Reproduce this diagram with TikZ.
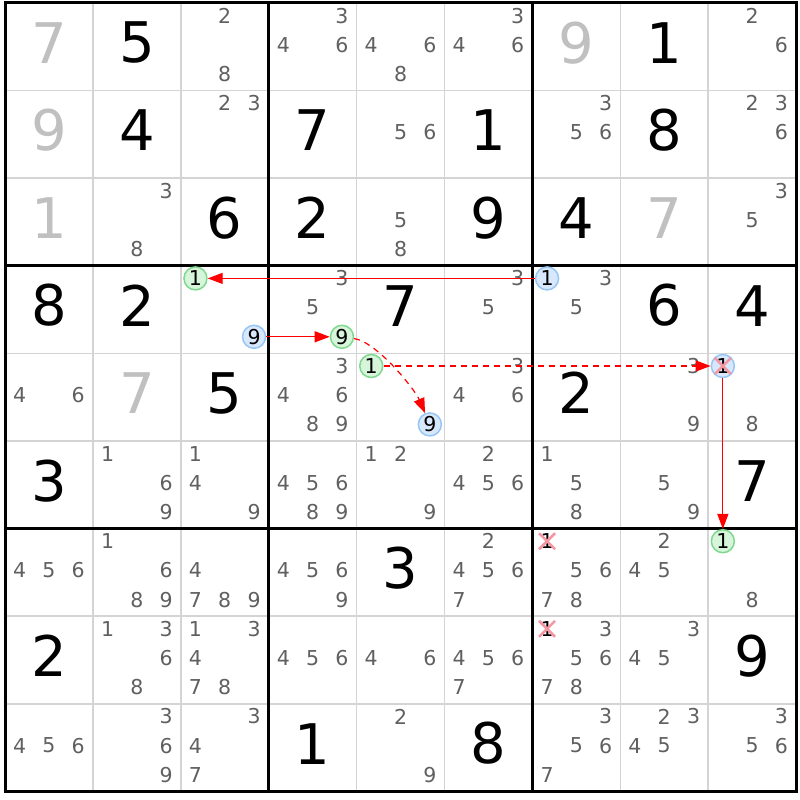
\documentclass[tikz,border=0pt]{standalone}
\usepackage{fontspec}
\setmainfont{DejaVu Sans}
\usetikzlibrary{arrows.meta}
\definecolor{candgray}{RGB}{96,96,96}
\definecolor{fadedgray}{RGB}{192,192,192}
\definecolor{gridgray}{RGB}{212,212,212}
\definecolor{onfill}{RGB}{214,245,218}
\definecolor{ondraw}{RGB}{128,216,144}
\definecolor{offfill}{RGB}{216,232,252}
\definecolor{offdraw}{RGB}{150,198,245}
\definecolor{crossred}{RGB}{245,150,160}
\newcommand\cand[4][]{%
  \pgfmathtruncatemacro\subc{mod(#4-1,3)}%
  \pgfmathtruncatemacro\subr{(#4-1)/3}%
  \node[cand,#1] (r#2c#3n#4) at ({5+(#3-1)*87.9+(\subc+0.5)*29.3},{3+(#2-1)*87.6+(\subr+0.5)*29.2-2}) {#4};}
\newcommand\cands[3]{\foreach \d in {#3}{\cand{#1}{#2}{\d}}}
\newcommand\digit[4][]{%
  \node[solved,#1] (r#2c#3) at ({5+(#3-1)*87.9+43.95},{3+(#2-1)*87.6+43.8-4}) {#4};}
\begin{document}
\begin{tikzpicture}[x=1pt,y=-1pt,
    cand/.style={inner sep=0pt,text=candgray,font=\fontsize{20.5}{20.5}\selectfont},
    solved/.style={inner sep=0pt,text=black,font=\fontsize{56}{56}\selectfont},
    faded/.style={text=fadedgray},
    on/.style={circle,draw=ondraw,fill=onfill,line width=1.5pt,minimum size=23pt,text=black},
    off/.style={circle,draw=offdraw,fill=offfill,line width=1.5pt,minimum size=23pt,text=black},
    elim/.style={text=black},
    cross/.style={crossred,line width=2.6pt},
    link/.style={red,line width=1.2pt,-{Triangle[length=15pt,width=11pt]}},
    weak/.style={link,dash pattern=on 6pt off 5pt},
    thin grid/.style={gridgray,line width=1.6pt},
    thick grid/.style={black,line width=3pt}]
    \useasboundingbox (0,0) rectangle (800,800);
    \fill[white] (0,0) rectangle (800,800);
    \foreach \i in {1,2,4,5,7,8} {
        \draw[thin grid] ({5+\i*87.9},3) -- ({5+\i*87.9},791.4);
        \draw[thin grid] (5,{3+\i*87.6}) -- (796.1,{3+\i*87.6});
    }
    \foreach \i in {3,6} {
        \draw[thick grid] ({5+\i*87.9},3) -- ({5+\i*87.9},791.4);
        \draw[thick grid] (5,{3+\i*87.6}) -- (796.1,{3+\i*87.6});
    }
    \draw[thick grid] (5,3) rectangle (796.1,791.4);
    \digit[faded]{1}{1}{7}
    \digit{1}{2}{5}
    \cands{1}{3}{2,8}
    \cands{1}{4}{3,4,6}
    \cands{1}{5}{4,6,8}
    \cands{1}{6}{3,4,6}
    \digit[faded]{1}{7}{9}
    \digit{1}{8}{1}
    \cands{1}{9}{2,6}
    \digit[faded]{2}{1}{9}
    \digit{2}{2}{4}
    \cands{2}{3}{2,3}
    \digit{2}{4}{7}
    \cands{2}{5}{5,6}
    \digit{2}{6}{1}
    \cands{2}{7}{3,5,6}
    \digit{2}{8}{8}
    \cands{2}{9}{2,3,6}
    \digit[faded]{3}{1}{1}
    \cands{3}{2}{3,8}
    \digit{3}{3}{6}
    \digit{3}{4}{2}
    \cands{3}{5}{5,8}
    \digit{3}{6}{9}
    \digit{3}{7}{4}
    \digit[faded]{3}{8}{7}
    \cands{3}{9}{3,5}
    \digit{4}{1}{8}
    \digit{4}{2}{2}
    \cand[on]{4}{3}{1}
    \cand[off]{4}{3}{9}
    \cands{4}{4}{3,5}
    \cand[on]{4}{4}{9}
    \digit{4}{5}{7}
    \cands{4}{6}{3,5}
    \cand[off]{4}{7}{1}
    \cands{4}{7}{3,5}
    \digit{4}{8}{6}
    \digit{4}{9}{4}
    \cands{5}{1}{4,6}
    \digit[faded]{5}{2}{7}
    \digit{5}{3}{5}
    \cands{5}{4}{3,4,6,8,9}
    \cand[on]{5}{5}{1}
    \cand[off]{5}{5}{9}
    \cands{5}{6}{3,4,6}
    \digit{5}{7}{2}
    \cands{5}{8}{3,9}
    \cand[off]{5}{9}{1}
    \cands{5}{9}{8}
    \digit{6}{1}{3}
    \cands{6}{2}{1,6,9}
    \cands{6}{3}{1,4,9}
    \cands{6}{4}{4,5,6,8,9}
    \cands{6}{5}{1,2,9}
    \cands{6}{6}{2,4,5,6}
    \cands{6}{7}{1,5,8}
    \cands{6}{8}{5,9}
    \digit{6}{9}{7}
    \cands{7}{1}{4,5,6}
    \cands{7}{2}{1,6,8,9}
    \cands{7}{3}{4,7,8,9}
    \cands{7}{4}{4,5,6,9}
    \digit{7}{5}{3}
    \cands{7}{6}{2,4,5,6,7}
    \cand[elim]{7}{7}{1}
    \cands{7}{7}{5,6,7,8}
    \cands{7}{8}{2,4,5}
    \cand[on]{7}{9}{1}
    \cands{7}{9}{8}
    \digit{8}{1}{2}
    \cands{8}{2}{1,3,6,8}
    \cands{8}{3}{1,3,4,7,8}
    \cands{8}{4}{4,5,6}
    \cands{8}{5}{4,6}
    \cands{8}{6}{4,5,6,7}
    \cand[elim]{8}{7}{1}
    \cands{8}{7}{3,5,6,7,8}
    \cands{8}{8}{3,4,5}
    \digit{8}{9}{9}
    \cands{9}{1}{4,5,6}
    \cands{9}{2}{3,6,9}
    \cands{9}{3}{3,4,7}
    \digit{9}{4}{1}
    \cands{9}{5}{2,9}
    \digit{9}{6}{8}
    \cands{9}{7}{3,5,6,7}
    \cands{9}{8}{2,3,4,5}
    \cands{9}{9}{3,5,6}
    \draw[cross] (r5c9n1.center) +(-8,-8) -- +(8,8) +(-8,8) -- +(8,-8);
    \draw[cross] (r7c7n1.center) +(-8,-8) -- +(8,8) +(-8,8) -- +(8,-8);
    \draw[cross] (r8c7n1.center) +(-8,-8) -- +(8,8) +(-8,8) -- +(8,-8);
    \draw[link] (r4c7n1) -- (r4c3n1);
    \draw[link] (r4c3n9) -- (r4c4n9);
    \draw[weak] (r4c4n9) .. controls +(35,5) and +(-15,-35) .. (r5c5n9);
    \draw[weak] (r5c5n1) -- (r5c9n1);
    \draw[link] (r5c9n1) -- (r7c9n1);
\end{tikzpicture}
\end{document}
